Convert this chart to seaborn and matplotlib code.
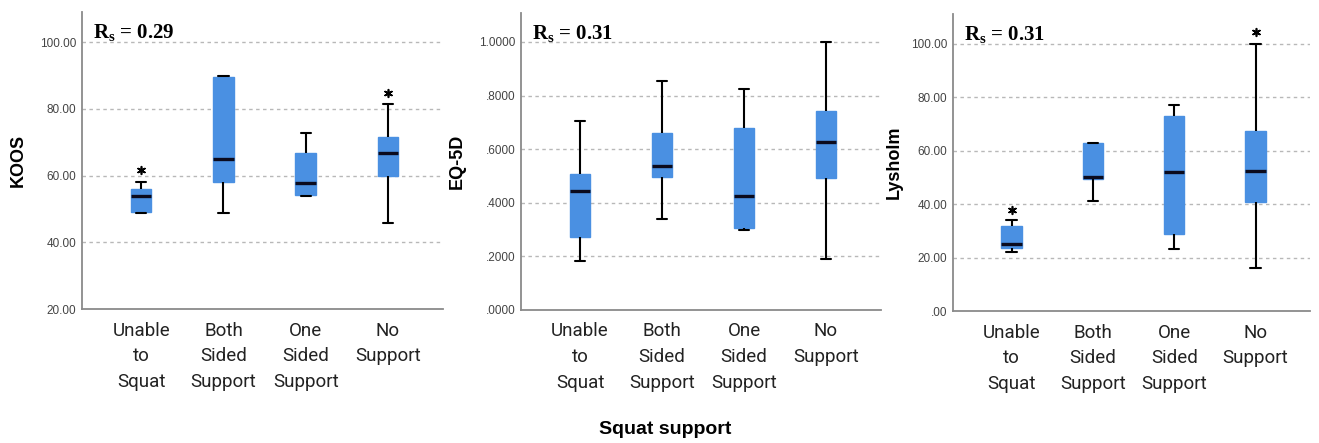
import numpy as np
import pandas as pd
import matplotlib
matplotlib.use("Agg")
import matplotlib.pyplot as plt
from matplotlib.ticker import FuncFormatter
import seaborn as sns

# categories on the x axis
groups = ["Unable\nto\nSquat", "Both\nSided\nSupport", "One\nSided\nSupport", "No\nSupport"]

# five-number summaries per group: [low whisker, q1, median, q3, high whisker]
koos_summary = [
    [48.7, 49.0, 53.9, 55.9, 58.1],
    [48.9, 58.2, 64.8, 89.6, 89.7],
    [54.0, 54.1, 57.8, 66.8, 72.6],
    [45.7, 60.0, 66.6, 71.4, 81.5],
]
eq5d_summary = [
    [0.182, 0.272, 0.445, 0.509, 0.704],
    [0.341, 0.496, 0.539, 0.659, 0.854],
    [0.297, 0.305, 0.424, 0.679, 0.826],
    [0.189, 0.491, 0.626, 0.743, 1.000],
]
lysholm_summary = [
    [22.1, 23.5, 25.0, 31.7, 34.1],
    [41.2, 49.5, 50.0, 62.8, 62.9],
    [23.1, 28.9, 52.1, 73.1, 77.0],
    [16.2, 40.8, 52.6, 67.3, 100.0],
]

# extreme values (drawn as asterisks)
koos_out_groups = ["Unable\nto\nSquat", "No\nSupport"]
koos_out_vals = [61.8, 84.8]
eq5d_out_groups = []
eq5d_out_vals = []
lysholm_out_groups = ["Unable\nto\nSquat", "No\nSupport"]
lysholm_out_vals = [37.9, 104.3]

rs_labels = ["0.29", "0.31", "0.31"]
y_titles = ["KOOS", "EQ-5D", "Lysholm"]

box_color = "#4a90e2"


def long_df(summary):
    rows = []
    for g, vals in zip(groups, summary):
        for v in vals:
            rows.append({"group": g, "value": v})
    return pd.DataFrame(rows)


def fmt_2(v, pos):
    s = f"{v:.2f}"
    return s[1:] if s.startswith("0") else s


def fmt_4(v, pos):
    s = f"{v:.4f}"
    return s[1:] if s.startswith("0") else s


sns.set_theme(style="white")
plt.rcParams["font.family"] = ["Liberation Sans", "DejaVu Sans"]

fig = plt.figure(figsize=(13.19, 4.43), dpi=100)

panels = [
    (koos_summary, koos_out_groups, koos_out_vals, (20, 109), [20, 40, 60, 80, 100], fmt_2,
     [82 / 1319, 1 - 309 / 443, 361 / 1319, 297 / 443], -0.152),
    (eq5d_summary, eq5d_out_groups, eq5d_out_vals, (0, 1.108), [0, 0.2, 0.4, 0.6, 0.8, 1.0], fmt_4,
     [521 / 1319, 1 - 310 / 443, 360 / 1319, 297 / 443], -0.153),
    (lysholm_summary, lysholm_out_groups, lysholm_out_vals, (0, 111.2), [0, 20, 40, 60, 80, 100], fmt_2,
     [953 / 1319, 1 - 311 / 443, 357 / 1319, 297 / 443], -0.14),
]

for i, (summary, og, ov, ylim, yticks, fmt, rect, labx) in enumerate(panels):
    ax = fig.add_axes(rect)
    df = long_df(summary)
    sns.boxplot(data=df, x="group", y="value", order=groups, ax=ax,
                color=box_color, saturation=1, width=0.25, whis=(0, 100),
                boxprops=dict(edgecolor=box_color, linewidth=1),
                whiskerprops=dict(color="black", linewidth=1.5),
                capprops=dict(color="black", linewidth=1.5),
                medianprops=dict(color="#0b0b1e", linewidth=2.4),
                showfliers=False)
    if len(ov):
        odf = pd.DataFrame({"group": og, "value": ov})
        sns.stripplot(data=odf, x="group", y="value", order=groups, ax=ax,
                      jitter=False, marker=(6, 2, 0), size=5.5, color="black",
                      linewidth=1.2, edgecolor="black")

    ax.set_xlim(-0.72, 3.67)
    ax.set_ylim(*ylim)
    ax.set_yticks(yticks)
    ax.yaxis.set_major_formatter(FuncFormatter(fmt))
    for t in yticks[1:]:
        ax.axhline(t, color="#b8b8b8", linestyle=(0, (2.5, 2.5)), linewidth=1, zorder=0)

    ax.set_xlabel("")
    ax.set_ylabel(y_titles[i], fontsize=13, fontweight="bold", color="black")
    ax.yaxis.set_label_coords(labx, 0.5)

    ax.tick_params(axis="y", length=0, pad=4, labelsize=8.5, labelcolor="#444444")
    ax.tick_params(axis="x", length=0, pad=9)
    for lab in ax.get_xticklabels():
        lab.set_fontfamily(["Roboto", "DejaVu Sans"])
        lab.set_fontsize(13.5)
        lab.set_linespacing(1.55)
        lab.set_color("#222222")

    for side in ["top", "right"]:
        ax.spines[side].set_visible(False)
    for side in ["left", "bottom"]:
        ax.spines[side].set_color("#8a8a8a")
        ax.spines[side].set_linewidth(1.3)

    ax.text(0.03, 0.912, "R$_\\mathregular{s}$ = " + rs_labels[i], transform=ax.transAxes,
            fontsize=15, fontweight="bold", family=["Liberation Serif", "DejaVu Serif"],
            ha="left", va="baseline", color="black")

fig.text(0.504, 1 - 430 / 443, "Squat support", ha="center", va="center",
         fontsize=14, fontweight="bold", color="black")

fig.savefig("out.png", dpi=100)
